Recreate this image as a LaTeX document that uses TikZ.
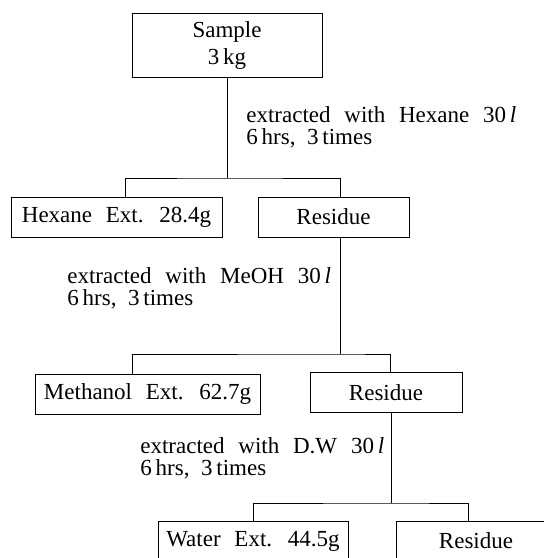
\documentclass[tikz,border=0pt]{standalone}
\usepackage{fontspec}
\setmainfont{Liberation Serif}
\usetikzlibrary{positioning}
\newcommand{\widegaps}{\spaceskip=0.6em plus 0.1em\relax}
\tikzset{
  every picture/.style={line width=0.7pt},
  txt/.style={font=\fontsize{23}{22}\selectfont, execute at begin node=\widegaps},
  stage/.style={draw, txt, inner sep=0pt, minimum height=40pt},
  cond/.style={txt, align=left, anchor=north west, inner sep=0pt},
}

\begin{document}
\begin{tikzpicture}[x=1pt, y=-1pt]
  \clip (0,0) rectangle (544,558);
  % boxes
  \node[stage, minimum width=190pt, minimum height=64pt, align=center,
        font=\fontsize{23}{27}\selectfont] (sample) at (227,45) {Sample\\3\,kg};
  \node[stage, minimum width=211pt] (hex) at (116.5,217) {Hexane Ext. 28.4g};
  \node[stage, minimum width=151pt] (res1) at (333.5,217) {Residue};
  \node[stage, minimum width=225pt] (meth) at (147.5,394) {Methanol Ext. 62.7g};
  \node[stage, minimum width=152pt] (res2) at (386,392.5) {Residue};
  \node[stage, minimum width=190pt] (water) at (253,541) {Water Ext. 44.5g};
  \node[stage, minimum width=160pt] (res3) at (476,541) {Residue};
  % extraction steps
  \node[cond] (c1) at (246,106) {extracted with Hexane 30\,\textit{l}\\6\,hrs,\enspace3\,times};
  \node[cond] (c2) at (67,267) {extracted with MeOH 30\,\textit{l}\\6\,hrs,\enspace3\,times};
  \node[cond] (c3) at (140,437) {extracted with D.W 30\,\textit{l}\\6\,hrs,\enspace3\,times};
  % junctions
  \coordinate (j1) at (227,178);
  \coordinate (j2) at (340,354);
  \coordinate (j3) at (391,503);
  \draw (sample.south) -- (j1);
  \draw ([xshift=8.5pt]hex.north) |- (j1) -| ([xshift=6.5pt]res1.north);
  \draw ([xshift=6.5pt]res1.south) -- (j2);
  \draw ([xshift=-15.5pt]meth.north) |- (j2) -| ([xshift=4pt]res2.north);
  \draw ([xshift=5pt]res2.south) -- (j3);
  \draw (water.north) |- (j3) -| ([xshift=-8pt]res3.north);
\end{tikzpicture}
\end{document}
